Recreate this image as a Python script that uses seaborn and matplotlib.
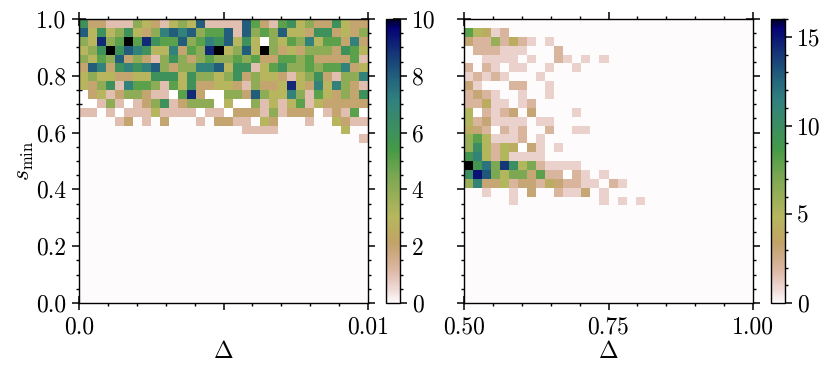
import numpy as np
import pandas as pd
import matplotlib
matplotlib.use("Agg")
import matplotlib.pyplot as plt
from matplotlib.ticker import FixedLocator
import seaborn as sns

N = float("nan")
BINS = 32
y_ticks = [0.0, 0.2, 0.4, 0.6, 0.8, 1.0]
left_xrange = (0.0, 0.01)
right_xrange = (0.5, 1.0)

left_rows = [
 [6,2,2,1,1,1,4,3,2,1,3,4,3,8,1,1,1,1,8,5,2,1,5,6,3,4,2,2,6,3,2,2],
 [8,3,6,3,4,6,3,2,4,7,8,7,8,4,5,5,8,1,8,4,5,4,8,3,3,2,6,6,2,3,2,4],
 [4,3,9,4,5,10,5,9,6,5,5,8,4,5,7,6,8,3,6,3,N,4,3,5,4,7,3,5,5,2,7,2],
 [3,4,6,10,6,8,7,6,3,3,7,2,5,4,9,10,3,4,8,3,10,4,2,3,2,4,4,4,2,6,5,3],
 [4,3,5,4,8,2,4,2,1,4,6,4,2,4,5,4,4,5,4,5,2,2,5,5,4,5,2,2,2,2,5,1],
 [2,8,7,2,6,7,6,7,8,4,2,4,4,7,7,8,3,6,6,1,3,5,6,4,4,5,4,5,5,7,2,3],
 [3,4,3,3,2,2,3,3,6,6,6,3,6,4,4,3,4,6,2,4,3,3,2,1,3,4,6,2,1,4,4,7],
 [3,2,4,6,1,7,5,5,4,1,5,3,6,2,2,3,3,2,1,4,2,2,3,9,3,2,7,3,7,4,2,1],
 [N,2,3,1,2,4,4,2,1,1,N,5,9,2,N,N,4,4,2,8,4,3,3,7,4,1,5,3,2,4,2,6],
 [N,N,1,4,1,N,1,2,4,6,1,2,4,4,4,N,3,N,N,4,1,3,1,3,5,1,3,2,2,2,2,2],
 [1,1,N,1,N,1,1,1,3,1,1,1,1,N,1,1,N,2,2,2,1,4,1,2,2,2,N,1,2,1,5,N],
 [0,0,0,0,1,2,0,1,0,2,0,0,0,1,0,2,2,1,1,0,3,2,0,0,0,1,0,0,3,2,1,1],
 [0,0,0,0,0,0,0,0,0,0,0,0,0,0,0,0,0,0,1,1,1,1,0,0,0,0,0,0,0,3,0,0],
 [0,0,0,0,0,0,0,0,0,0,0,0,0,0,0,0,0,0,0,0,0,0,0,0,0,0,0,0,0,0,0,1],
]

right_rows = [
 [0],
 [8,5,4,1,2],
 [3,2,2,6,2,4,2,1,0,1],
 [0,2,2,2,1,1,1,0,0,0,2],
 [0,0,1,1,1,1,0,1,0,0,2,1,0,1,0,1],
 [2,0,2,1,0,1,1,0,0,1,0,0,1],
 [1,2,1,2,1,0,0,0,1],
 [3,1,0,0,0,2,2,0,0,1],
 [2,3,2,1,0,0,1,0,0,1],
 [2,2,4,1,1,0,1,2],
 [5,N,2,1,2,3,0,3,0,0,0,0,1],
 [5,2,3,1,1,1,1,0,1,1],
 [4,3,2,N,2,1,2,0,0,2,0,0,1,1],
 [6,8,5,1,1,1,2,0,1],
 [6,10,5,2,5,4,N,3,1,0,1],
 [9,11,5,2,5,1,1,1,1],
 [16,9,12,7,14,10,5,7,2,1,1,1,1],
 [10,15,13,7,5,7,7,3,8,2,2,N,2,1,0,1],
 [6,11,3,3,5,2,3,3,2,4,3,2,2,1,1,0,2,1],
 [0,0,1,0,0,1,0,3,0,0,2,1,1,3,0,1],
 [0,0,0,0,0,1,0,0,0,0,0,0,0,0,0,1,0,1,0,1],
]


def grid(rows):
    out = np.zeros((BINS, BINS))
    for i, row in enumerate(rows):
        out[i, :len(row)] = row
    return pd.DataFrame(out)


sns.set_theme(style="white")
plt.rcParams.update({
    "font.family": "cmr10",
    "axes.formatter.use_mathtext": True,
    "mathtext.fontset": "cm",
    "font.size": 17,
    "axes.linewidth": 1.0,
    "axes.edgecolor": "black",
    "axes.facecolor": "white",
    "text.color": "black",
    "axes.labelcolor": "black",
    "xtick.color": "black",
    "ytick.color": "black",
})

W, H = 831, 374
fig = plt.figure(figsize=(W / 100, H / 100), dpi=100)


def box(x0, x1, y0, y1):
    return fig.add_axes([x0 / W, 1 - y1 / H, (x1 - x0) / W, (y1 - y0) / H])


def style_ticks(axis, xpad=4.5, ypad=4.2):
    axis.tick_params(which="major", direction="inout", length=9.6, width=1.1, labelsize=17)
    axis.tick_params(which="minor", direction="inout", length=4.8, width=1.0)
    axis.tick_params(axis="x", which="major", pad=xpad)
    axis.tick_params(axis="y", which="major", pad=ypad)


def panel(ax, cax, rows, vmax, xrange, xmaj, xlabs, xmin, ytext, cmaj, cmin):
    sns.heatmap(grid(rows), ax=ax, cbar_ax=cax, cmap="gist_earth_r", vmin=0, vmax=vmax,
                square=False, xticklabels=False, yticklabels=False)
    lo, hi = xrange
    to_x = lambda v: (np.asarray(v) - lo) / (hi - lo) * BINS
    to_y = lambda v: (1 - np.asarray(v)) * BINS
    ax.xaxis.set_major_locator(FixedLocator(to_x(xmaj)))
    ax.set_xticklabels(xlabs)
    ax.xaxis.set_minor_locator(FixedLocator(to_x(xmin)))
    ax.yaxis.set_major_locator(FixedLocator(to_y(y_ticks)))
    ax.set_yticklabels([f"{v:.1f}" for v in y_ticks] if ytext else [""] * len(y_ticks))
    ax.yaxis.set_minor_locator(FixedLocator(to_y(np.arange(0, 1.001, 0.05))))
    ax.tick_params(which="both", top=True, right=True, bottom=True, left=True)
    style_ticks(ax)
    ax.tick_params(axis="x", which="both", labelrotation=0)
    ax.tick_params(axis="y", which="both", labelrotation=0)
    for s in ax.spines.values():
        s.set_visible(True)
        s.set_linewidth(1.0)
        s.set_color("black")
    ax.set_xlabel(r"$\Delta$", fontsize=17, labelpad=2)
    cb = ax.collections[0].colorbar
    cb.outline.set_visible(True)
    cb.outline.set_linewidth(1.0)
    cb.outline.set_edgecolor("black")
    cax.yaxis.set_major_locator(FixedLocator(cmaj))
    cax.set_yticklabels([f"{v}" for v in cmaj])
    cax.yaxis.set_minor_locator(FixedLocator(cmin))
    cax.tick_params(which="both", right=True, left=False)
    style_ticks(cax, ypad=4.0)


a1 = box(79, 368, 19, 303)
c1 = box(385.5, 399.5, 19, 303)
a2 = box(464, 753, 19, 303)
c2 = box(771, 785, 19, 303)

panel(a1, c1, left_rows, 10, left_xrange, [0.0, 0.005, 0.01], ["0.0", "", "0.01"],
      np.arange(0, 0.01001, 0.001), True, [0, 2, 4, 6, 8, 10], np.arange(0, 10.01, 0.5))
panel(a2, c2, right_rows, 16, right_xrange, [0.5, 0.75, 1.0], ["0.50", "0.75", "1.00"],
      np.arange(0.5, 1.001, 0.05), False, [0, 5, 10, 15], np.arange(0, 16.01, 1))
a1.set_ylabel(r"$s_{\mathrm{min}}$", fontsize=17, labelpad=0)

fig.savefig("out.png", dpi=100)
